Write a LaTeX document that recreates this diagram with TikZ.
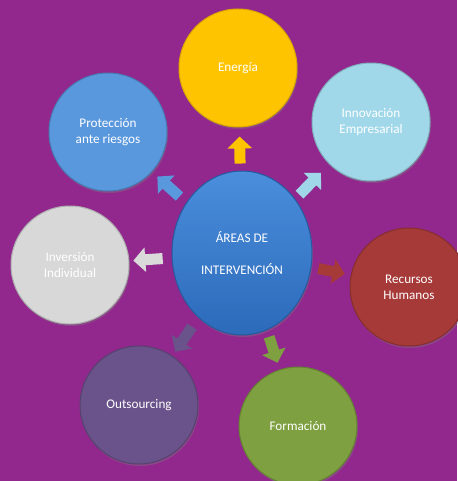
\documentclass[tikz,border=0pt]{standalone}
\usepackage{fontspec}
\setmainfont{Carlito}
\usetikzlibrary{arrows.meta,shadows,shapes.geometric}
\definecolor{bg}{RGB}{146,40,141}
\definecolor{cYel}{RGB}{255,196,0}
\definecolor{cProt}{RGB}{90,152,222}
\definecolor{cInno}{RGB}{160,216,234}
\definecolor{cGray}{RGB}{216,216,216}
\definecolor{cRed}{RGB}{166,58,56}
\definecolor{cPur}{RGB}{106,82,138}
\definecolor{cGreen}{RGB}{126,160,64}
\definecolor{cBlueT}{RGB}{74,142,220}
\definecolor{cBlueB}{RGB}{44,106,186}
\tikzset{
  area/.style={circle, minimum size=118pt, inner sep=0pt, align=center,
    text=white, font=\fontsize{13.2}{16}\selectfont, line width=1pt,
    drop shadow={shadow xshift=1pt, shadow yshift=-2pt, opacity=0.35}},
  blockarrow/.style={line width=11pt, line cap=butt,
    -{Triangle[width=24pt,length=12pt]}},
}
\begin{document}
\begin{tikzpicture}[x=1pt,y=-1pt]
\fill[bg] (0,0) rectangle (457,481);
\useasboundingbox (0,0) rectangle (457,481);
\node[area, fill=cYel, draw=cYel!85!black] (ene) at (238,68) {Energía};
\node[area, fill=cProt, draw=cProt!80!black] (pro) at (108,132) {Protección\\ante riesgos};
\node[area, fill=cInno, draw=cInno!80!black] (inn) at (371,122) {Innovación\\Empresarial};
\node[area, fill=cGray, draw=cGray!80!black] (inv) at (70,265) {Inversión\\Individual};
\node[area, fill=cRed, draw=cRed!80!black] (rec) at (409,287) {Recursos\\Humanos};
\node[area, fill=cPur, draw=cPur!80!black] (out) at (139,405) {Outsourcing};
\node[area, fill=cGreen, draw=cGreen!80!black] (for) at (298,426) {Formación};
\node[ellipse, minimum width=140pt, minimum height=164pt, inner sep=0pt,
  top color=cBlueT, bottom color=cBlueB, draw=cBlueB!85!black, line width=1pt,
  text=white, align=center, font=\fontsize{13.2}{32}\selectfont,
  drop shadow={shadow xshift=1pt, shadow yshift=-2pt, opacity=0.35}]
  (c) at (242,253) {ÁREAS DE\\INTERVENCIÓN};
\draw[blockarrow, draw=cYel, fill=cYel, shorten <=7pt, shorten >=9pt] (c) -- (ene);
\draw[blockarrow, draw=cProt, fill=cProt, shorten <=9pt, shorten >=7pt] (c) -- (pro);
\draw[blockarrow, draw=cInno, fill=cInno, shorten <=6pt, shorten >=12pt] (c) -- (inn);
\draw[blockarrow, draw=cGray!95!white, fill=cGray!95!white, shorten <=9pt, shorten >=4pt] (c) -- (inv);
\draw[blockarrow, draw=cRed, fill=cRed, shorten <=7pt, shorten >=6pt] (c) -- (rec);
\draw[blockarrow, draw=cPur, fill=cPur, shorten <=11pt, shorten >=5pt] (c) -- (out);
\draw[blockarrow, draw=cGreen, fill=cGreen, shorten <=7pt, shorten >=7pt] (c) -- (for);
\end{tikzpicture}
\end{document}
